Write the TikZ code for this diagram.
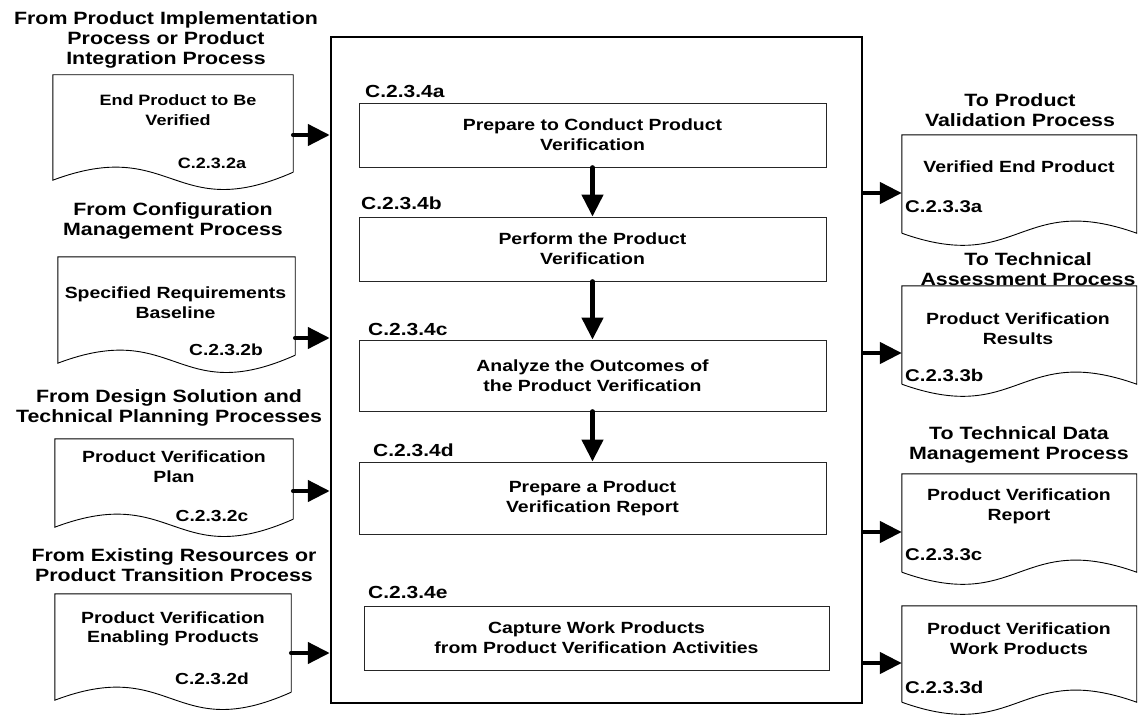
\documentclass[tikz,border=0pt]{standalone}
\usepackage{fontspec}
\setmainfont{Liberation Sans}[FakeStretch=1.2]
\usetikzlibrary{arrows.meta,calc}

% document outline whose wavy bottom rises first (input documents)
\newcommand\indoc[1]{%
  \draw[docline] ($(#1.south east)+(0,-8)$) -- (#1.north east) -- (#1.north west) -- (#1.south west)
    .. controls ($(#1.south)+(0,-45)$) and ($(#1.south)+(0,45)$) .. ($(#1.south east)+(0,-8)$);}
% document outline whose wavy bottom dips first (output documents)
\newcommand\outdoc[1]{%
  \draw[docline] (#1.south west) -- (#1.north west) -- (#1.north east) -- (#1.south east)
    .. controls ($(#1.south)+(0,-42)$) and ($(#1.south)+(0,42)$) .. (#1.south west);}

\begin{document}
\begin{tikzpicture}[x=1pt,y=-1pt,
  every node/.style={inner sep=0pt, align=center},
  title/.style={font=\bfseries\fontsize{17.8}{20}\selectfont},
  doctext/.style={font=\bfseries\fontsize{16.2}{19.5}\selectfont},
  smalltext/.style={font=\bfseries\fontsize{15}{20}\selectfont},
  code/.style={font=\bfseries\fontsize{16}{19}\selectfont},
  outcode/.style={font=\bfseries\fontsize{17}{19}\selectfont, anchor=west},
  steplabel/.style={font=\bfseries\fontsize{17.5}{19}\selectfont, anchor=west},
  docnode/.style={draw=none},
  docline/.style={draw=black, line width=0.9pt},
  stepbox/.style={draw=black!85, line width=0.9pt, font=\bfseries\fontsize{16.2}{20}\selectfont},
  frame/.style={draw=black, line width=2.5pt},
  flow/.style={line width=4.5pt, line cap=round, -{Triangle[length=22pt,width=21pt]}}
]
\useasboundingbox[fill=white] (0,0) rectangle (1138,717);

% enclosing process frame
\node[frame, minimum width=531pt, minimum height=666pt] (main) at (596.5,370) {};

% process steps
\node[stepbox, minimum width=467pt, minimum height=64pt] (sa) at (592.5,135) {Prepare to Conduct Product\\Verification};
\node[stepbox, minimum width=467pt, minimum height=64pt] (sb) at (592.5,249) {Perform the Product\\Verification};
\node[stepbox, minimum width=467pt, minimum height=71pt] (sc) at (592.5,375.5) {Analyze the Outcomes of\\the Product Verification};
\node[stepbox, minimum width=467pt, minimum height=72pt] (sd) at (592.5,498) {Prepare a Product\\Verification Report};
\node[stepbox, minimum width=465pt, minimum height=64pt] (se) at (596.5,638) {Capture Work Products\\from Product Verification Activities};

\node[steplabel] (la) at (365,91) {C.2.3.4a};
\node[steplabel] (lb) at (361,203) {C.2.3.4b};
\node[steplabel] (lc) at (368,329) {C.2.3.4c};
\node[steplabel] (ld) at (373,450) {C.2.3.4d};
\node[steplabel] (le) at (368,592) {C.2.3.4e};

\draw[flow] (sa) -- (sb);
\draw[flow] (sb) -- (sc);
\draw[flow] (sc) -- (sd);

% inputs
\node[title] (ta) at (166,40) {From Product Implementation\\Process or Product\\Integration Process};
\node[title] (tb) at (173,221) {From Configuration\\Management Process};
\node[title] (tc) at (169,407.5) {From Design Solution and\\Technical Planning Processes};
\node[title] (td) at (174,565) {From Existing Resources or\\Product Transition Process};

\node[docnode, minimum width=240pt, minimum height=105pt] (da) at (173,127.5) {};
\node[docnode, minimum width=237pt, minimum height=106pt] (db) at (176.5,310) {};
\node[docnode, minimum width=238pt, minimum height=88pt] (dc) at (174,483) {};
\node[docnode, minimum width=236pt, minimum height=106pt] (dd) at (173,647) {};
\indoc{da}\indoc{db}\indoc{dc}\indoc{dd}

\node[smalltext] (xa) at (178,110) {End Product to Be\\Verified};
\node[code, font=\bfseries\fontsize{15}{19}\selectfont] (ca) at (212,163) {C.2.3.2a};
\node[doctext] (xb) at (175.5,302.5) {Specified Requirements\\Baseline};
\node[code] (cb) at (226,350) {C.2.3.2b};
\node[doctext] (xc) at (174,466.5) {Product Verification\\Plan};
\node[code] (cc) at (212,516) {C.2.3.2c};
\node[doctext] (xd) at (173,629) {Product Verification\\Enabling Products};
\node[code] (cd) at (212,679) {C.2.3.2d};

\coordinate (ya) at (0,135);
\coordinate (yb) at (0,338);
\coordinate (yc) at (0,491);
\coordinate (yd) at (0,653);
\draw[flow] (da.east |- ya) -- (main.west |- ya);
\draw[flow] (db.east |- yb) -- (main.west |- yb);
\draw[flow] (dc.east |- yc) -- (main.west |- yc);
\draw[flow] (dd.east |- yd) -- (main.west |- yd);

% outputs
\node[title] (tA) at (1020,110) {To Product\\Validation Process};
\node[title] (tB) at (1028,269.5) {To Technical\\Assessment Process};
\node[title] (tC) at (1019,444.5) {To Technical Data\\Management Process};

\node[docnode, minimum width=234.5pt, minimum height=98pt] (dA) at (1019.25,184) {};
\node[docnode, minimum width=234.5pt, minimum height=98pt] (dB) at (1019.25,335) {};
\node[docnode, minimum width=234.5pt, minimum height=98pt] (dC) at (1019.25,523) {};
\node[docnode, minimum width=234.5pt, minimum height=96pt] (dD) at (1019.25,654) {};
\outdoc{dA}\outdoc{dB}\outdoc{dC}\outdoc{dD}

\node[doctext] (xA) at (1019,167) {Verified End Product};
\node[outcode] (cA) at (905,207) {C.2.3.3a};
\node[doctext] (xB) at (1018,328.5) {Product Verification\\Results};
\node[outcode] (cB) at (905,375) {C.2.3.3b};
\node[doctext] (xC) at (1019,506.5) {Product Verification\\Report};
\node[outcode] (cC) at (905,555) {C.2.3.3c};
\node[doctext] (xD) at (1019,638.5) {Product Verification\\Work Products};
\node[outcode] (cD) at (905,687) {C.2.3.3d};

\coordinate (yA) at (0,193);
\coordinate (yB) at (0,353);
\coordinate (yC) at (0,532);
\coordinate (yD) at (0,663);
\draw[flow] (main.east |- yA) -- (dA.west |- yA);
\draw[flow] (main.east |- yB) -- (dB.west |- yB);
\draw[flow] (main.east |- yC) -- (dC.west |- yC);
\draw[flow] (main.east |- yD) -- (dD.west |- yD);
\end{tikzpicture}
\end{document}
